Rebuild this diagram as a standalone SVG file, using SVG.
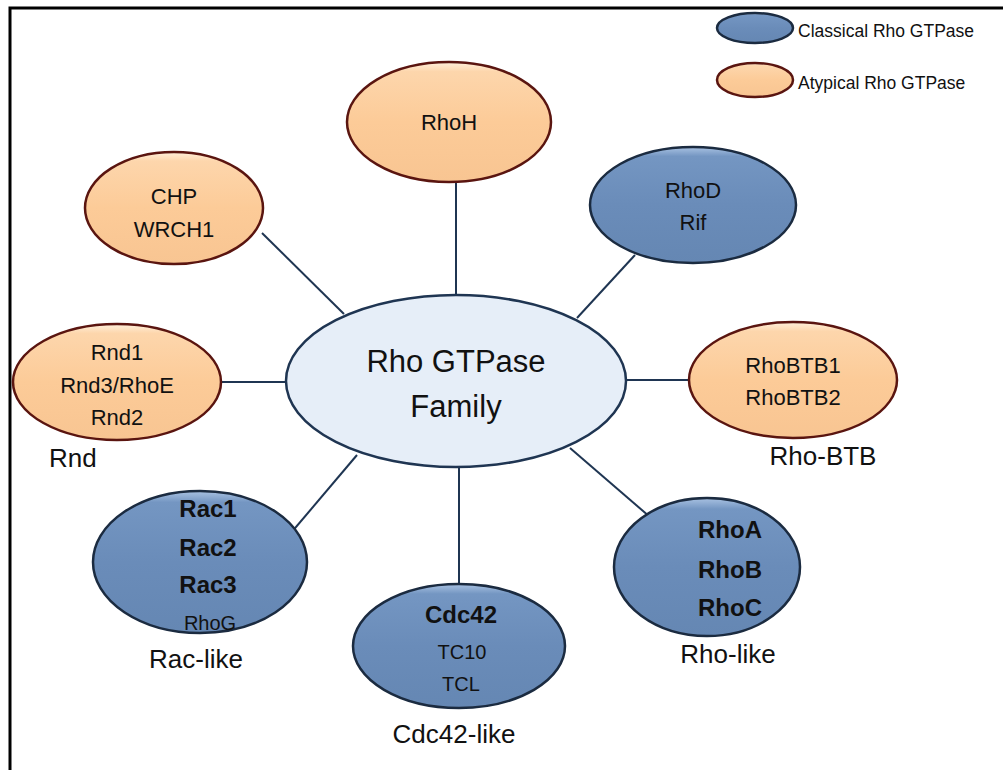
<svg xmlns="http://www.w3.org/2000/svg" width="1003" height="770" viewBox="0 0 1003 770">
<defs>
<linearGradient id="gBlue" x1="0" y1="0" x2="0" y2="1">
<stop offset="0" stop-color="#a9c2e2"/>
<stop offset="0.08" stop-color="#7496c2"/>
<stop offset="0.5" stop-color="#6a8cb9"/>
<stop offset="1" stop-color="#6587b3"/>
</linearGradient>
<linearGradient id="gOrange" x1="0" y1="0" x2="0" y2="1">
<stop offset="0" stop-color="#fff0dc"/>
<stop offset="0.08" stop-color="#fdd6ac"/>
<stop offset="0.5" stop-color="#fccb98"/>
<stop offset="1" stop-color="#f8c592"/>
</linearGradient>
<style>
.blue{fill:url(#gBlue);stroke:#1b2b40;stroke-width:2.5}
.orange{fill:url(#gOrange);stroke:#5a1510;stroke-width:2.5}
.center{fill:#e6eef8;stroke:#1f3552;stroke-width:2.5}
.conn line{stroke:#1f3552;stroke-width:2}
text{font-family:"Liberation Sans",Arial,sans-serif;fill:#111;text-anchor:middle}
.t{font-size:22px}
.ts{font-size:20px}
.b{font-size:24px;font-weight:bold}
.cat{font-size:26px}
.leg{font-size:17.5px;text-anchor:start}
</style>
</defs>
<rect x="0" y="0" width="1003" height="770" fill="#fff"/>
<rect x="10" y="8" width="1010" height="800" fill="none" stroke="#000" stroke-width="3"/>

<g id="connectors" class="conn">
<line x1="456" y1="182" x2="456" y2="296"/>
<line x1="635" y1="255" x2="577" y2="318"/>
<line x1="262" y1="233" x2="344" y2="314"/>
<line x1="221" y1="382" x2="286" y2="382"/>
<line x1="625" y1="380" x2="689" y2="380"/>
<line x1="285" y1="540" x2="357" y2="455"/>
<line x1="459" y1="466" x2="459" y2="584"/>
<line x1="570" y1="448" x2="650" y2="517"/>
</g>

<g id="legend">
<ellipse class="blue" cx="755" cy="28" rx="38" ry="15"/>
<text class="leg" x="798" y="37">Classical Rho GTPase</text>
<ellipse class="orange" cx="755" cy="80" rx="38" ry="17"/>
<text class="leg" x="798" y="89">Atypical Rho GTPase</text>
</g>

<g id="center">
<ellipse class="center" cx="456" cy="381" rx="170" ry="86"/>
<text x="456" y="372" style="font-size:31px">Rho GTPase</text>
<text x="456" y="417" style="font-size:31px">Family</text>
</g>

<g id="rhoH">
<ellipse class="orange" cx="449" cy="122" rx="102" ry="60"/>
<text class="t" x="449" y="130">RhoH</text>
</g>

<g id="rhoD">
<ellipse class="blue" cx="693" cy="205" rx="103" ry="58"/>
<text class="t" x="693" y="198">RhoD</text>
<text class="t" x="693" y="230">Rif</text>
</g>

<g id="chp">
<ellipse class="orange" cx="174" cy="208" rx="89" ry="56"/>
<text class="t" x="174" y="204">CHP</text>
<text class="t" x="174" y="237">WRCH1</text>
</g>

<g id="rnd">
<ellipse class="orange" cx="117" cy="382" rx="104" ry="58"/>
<text class="t" x="117" y="360">Rnd1</text>
<text class="t" x="117" y="393">Rnd3/RhoE</text>
<text class="t" x="117" y="425">Rnd2</text>
<text class="cat" x="49" y="467" style="text-anchor:start">Rnd</text>
</g>

<g id="rhoBTB">
<ellipse class="orange" cx="793" cy="380" rx="104" ry="58"/>
<text class="t" x="793" y="373">RhoBTB1</text>
<text class="t" x="793" y="405">RhoBTB2</text>
<text class="cat" x="823" y="465">Rho-BTB</text>
</g>

<g id="rac">
<ellipse class="blue" cx="200" cy="562" rx="107" ry="71"/>
<text class="b" x="208" y="517">Rac1</text>
<text class="b" x="208" y="556">Rac2</text>
<text class="b" x="208" y="593">Rac3</text>
<text class="ts" x="210" y="630">RhoG</text>
<text class="cat" x="196" y="668">Rac-like</text>
</g>

<g id="cdc42">
<ellipse class="blue" cx="459" cy="646" rx="106" ry="62"/>
<text class="b" x="461" y="623">Cdc42</text>
<text class="ts" x="462" y="659">TC10</text>
<text class="ts" x="461" y="691">TCL</text>
<text class="cat" x="454" y="743">Cdc42-like</text>
</g>

<g id="rhoA">
<ellipse class="blue" cx="707" cy="567" rx="93" ry="69"/>
<text class="b" x="730" y="538">RhoA</text>
<text class="b" x="730" y="578">RhoB</text>
<text class="b" x="730" y="616">RhoC</text>
<text class="cat" x="728" y="663">Rho-like</text>
</g>
</svg>
